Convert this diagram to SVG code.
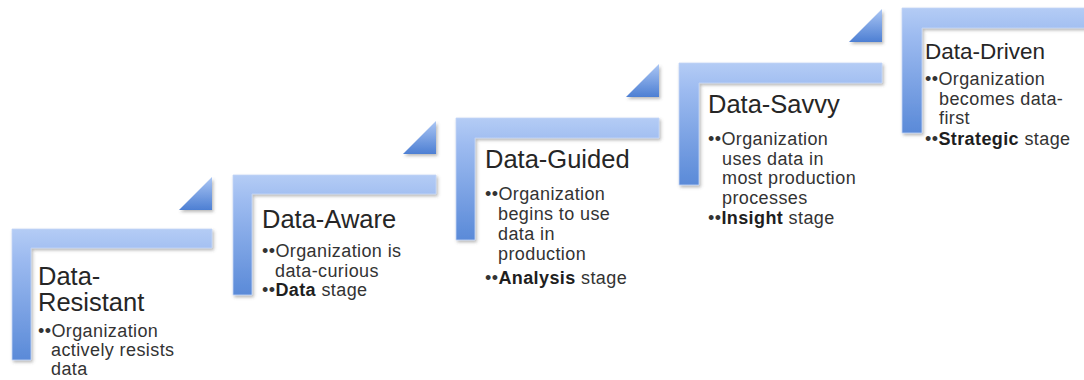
<svg xmlns="http://www.w3.org/2000/svg" width="1084" height="380" viewBox="0 0 1084 380">
  <defs>
    <linearGradient id="barFill" x1="0" y1="0" x2="0" y2="1">
      <stop offset="0" stop-color="#b4ccf5"/>
      <stop offset="0.22" stop-color="#9dbbf0"/>
      <stop offset="1" stop-color="#5a8ad8"/>
    </linearGradient>
    <linearGradient id="triFill" x1="0" y1="0" x2="0" y2="1">
      <stop offset="0" stop-color="#abc6f4"/>
      <stop offset="1" stop-color="#4d7fd3"/>
    </linearGradient>
    <filter id="shade" x="-10%" y="-10%" width="130%" height="130%">
      <feDropShadow dx="1.5" dy="2" stdDeviation="1.8" flood-color="#555" flood-opacity="0.4"/>
    </filter>
  </defs>
  <style>
    .bar { fill: url(#barFill); stroke: #c4d6f6; stroke-width: 0.8; filter: url(#shade); }
    .tri { fill: url(#triFill); filter: url(#shade); }
    .title { font-family: "Liberation Sans", Arial, sans-serif; font-size: 25.5px; fill: #262626; }
    .item { font-family: "Liberation Sans", Arial, sans-serif; font-size: 18px; letter-spacing: 0.4px; fill: #333333; }
    .b { font-weight: bold; fill: #1e1e1e; }
  </style>
  <rect width="1084" height="380" fill="#ffffff"/>

  <!-- step markers between stages -->
  <g id="connectors">
    <path class="tri" d="M212 177 V210 H179 Z"/>
    <path class="tri" d="M436 121 V154 H403 Z"/>
    <path class="tri" d="M659 64 V97 H626 Z"/>
    <path class="tri" d="M882 9 V42 H849 Z"/>
  </g>

  <g id="stage-data-resistant">
    <path class="bar" d="M12 229 H212 V248 H31 V360 H12 Z"/>
    <text class="title" x="38" y="285">Data-</text>
    <text class="title" x="38" y="311">Resistant</text>
    <text class="item" x="38" y="337">••Organization</text>
    <text class="item" x="51" y="356">actively resists</text>
    <text class="item" x="51" y="375">data</text>
  </g>

  <g id="stage-data-aware">
    <path class="bar" d="M233 175 H436 V194 H252 V295 H233 Z"/>
    <text class="title" x="262" y="228">Data-Aware</text>
    <text class="item" x="262" y="257">••Organization is</text>
    <text class="item" x="275" y="276.5">data-curious</text>
    <text class="item" x="262" y="296">••<tspan class="b">Data</tspan> stage</text>
  </g>

  <g id="stage-data-guided">
    <path class="bar" d="M456 118 H659 V138 H475 V240 H456 Z"/>
    <text class="title" x="485" y="168">Data-Guided</text>
    <text class="item" x="485" y="200">••Organization</text>
    <text class="item" x="498" y="220">begins to use</text>
    <text class="item" x="498" y="240">data in</text>
    <text class="item" x="498" y="260">production</text>
    <text class="item" x="485" y="284">••<tspan class="b">Analysis</tspan> stage</text>
  </g>

  <g id="stage-data-savvy">
    <path class="bar" d="M679 63 H882 V83 H699 V185 H679 Z"/>
    <text class="title" x="708" y="112.5">Data-Savvy</text>
    <text class="item" x="708" y="145">••Organization</text>
    <text class="item" x="722" y="164.5">uses data in</text>
    <text class="item" x="722" y="184">most production</text>
    <text class="item" x="722" y="203.5">processes</text>
    <text class="item" x="708" y="224">••<tspan class="b">Insight</tspan> stage</text>
  </g>

  <g id="stage-data-driven">
    <path class="bar" d="M902 8 H1092 V28 H922 V133 H902 Z"/>
    <text class="title" x="925" y="58.5" style="font-size:22.5px">Data-Driven</text>
    <text class="item" x="925" y="85">••Organization</text>
    <text class="item" x="939" y="104.5">becomes data-</text>
    <text class="item" x="939" y="124">first</text>
    <text class="item" x="925" y="145">••<tspan class="b">Strategic</tspan> stage</text>
  </g>
</svg>
